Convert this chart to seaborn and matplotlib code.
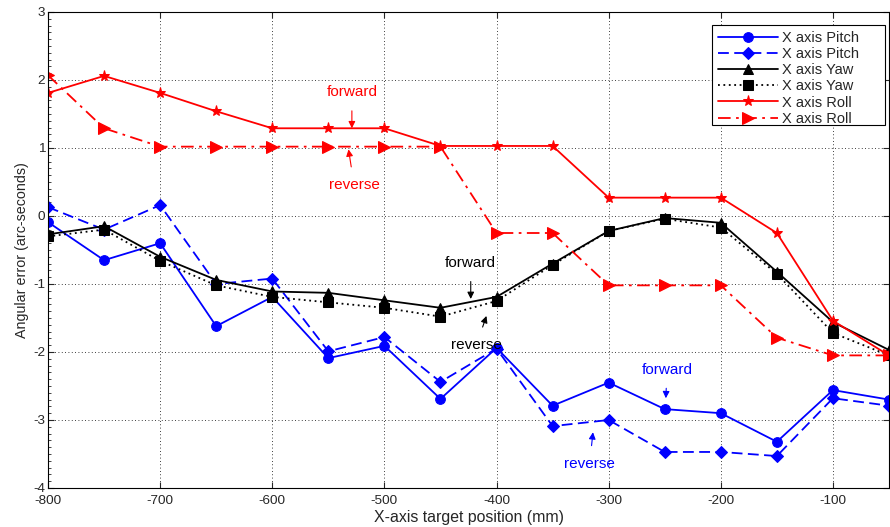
import numpy as np
import pandas as pd
import matplotlib
matplotlib.use("Agg")
import matplotlib.pyplot as plt
from matplotlib.patches import Rectangle
from matplotlib.ticker import MultipleLocator
import seaborn as sns

# ============================
# DATA
# ============================

positions = [-800, -750, -700, -650, -600, -550, -500, -450,
             -400, -350, -300, -250, -200, -150, -100, -50]

pitch_fwd = [-0.09, -0.65, -0.40, -1.62, -1.19, -2.09, -1.91, -2.69,
             -1.94, -2.79, -2.45, -2.84, -2.90, -3.32, -2.56, -2.70]
pitch_rev = [0.13, -0.20, 0.16, -1.00, -0.92, -1.99, -1.78, -2.44,
             -1.95, -3.09, -3.00, -3.47, -3.47, -3.53, -2.68, -2.79]
yaw_fwd = [-0.27, -0.15, -0.60, -0.94, -1.11, -1.13, -1.24, -1.35,
           -1.19, -0.70, -0.22, -0.03, -0.10, -0.82, -1.56, -1.97]
yaw_rev = [-0.30, -0.20, -0.66, -1.02, -1.19, -1.27, -1.35, -1.48,
           -1.25, -0.72, -0.22, -0.04, -0.17, -0.85, -1.72, -2.05]
roll_fwd = [1.81, 2.06, 1.81, 1.54, 1.29, 1.29, 1.29, 1.03,
            1.03, 1.03, 0.27, 0.27, 0.27, -0.25, -1.54, -2.05]
roll_rev = [2.07, 1.29, 1.02, 1.02, 1.02, 1.02, 1.02, 1.02,
            -0.25, -0.25, -1.02, -1.02, -1.02, -1.79, -2.05, -2.05]

series_labels = ["X axis Pitch", "X axis Pitch", "X axis Yaw",
                 "X axis Yaw", "X axis Roll", "X axis Roll"]

# (label, text position, arrow tip, colour)
annotations = [
    ("forward", (-529, 1.82), (-529, 1.29), "red"),
    ("reverse", (-527, 0.45), (-532, 0.98), "red"),
    ("forward", (-423, -0.69), (-423, -1.22), "black"),
    ("reverse", (-418, -1.90), (-409, -1.47), "black"),
    ("forward", (-248, -2.26), (-249, -2.68), "blue"),
    ("reverse", (-317, -3.65), (-314, -3.18), "blue"),
]

# ============================
# PLOT
# ============================

sns.set_style("ticks")
plt.rcParams["font.family"] = ["Liberation Sans", "DejaVu Sans"]
plt.rcParams["axes.unicode_minus"] = False

fig = plt.figure(figsize=(8.9, 5.27), dpi=100)
ax = fig.add_axes([48 / 890, 39 / 527, 841 / 890, 476 / 527])

styles = [
    (pitch_fwd, "blue", "-", "o", 7),
    (pitch_rev, "blue", (0, (6, 3)), "D", 6),
    (yaw_fwd, "black", "-", "^", 7.5),
    (yaw_rev, "black", (0, (1, 2)), "s", 7),
    (roll_fwd, "red", "-", "*", 8),
    (roll_rev, "red", (0, (7, 3, 1.5, 3)), ">", 8),
]

for (vals, color, ls, mk, ms), label in zip(styles, series_labels):
    sns.lineplot(x=positions, y=vals, ax=ax, color=color, linestyle=ls,
                 marker=mk, markersize=ms, markeredgecolor=color,
                 linewidth=1.3, label=label, sort=False)

for text, xy_text, xy_tip, color in annotations:
    ax.annotate(text, xy=xy_tip, xytext=xy_text, color=color, fontsize=11,
                ha="center", va="center",
                arrowprops=dict(arrowstyle="-|>", color=color, lw=0.8,
                                mutation_scale=10, shrinkA=6, shrinkB=0))

ax.set_xlim(-800, -50)
ax.set_ylim(-4, 3)
ax.set_xticks(range(-800, -50, 100))
ax.set_yticks(range(-4, 4))
ax.yaxis.set_minor_locator(MultipleLocator(0.1))
ax.grid(True, which="major", color="black", linestyle=(0, (1, 3)), linewidth=0.6)
ax.tick_params(direction="in", labelsize=9.7, length=4, top=True, right=True)
ax.tick_params(axis="x", pad=5)
ax.tick_params(axis="y", pad=2)
ax.tick_params(axis="y", which="minor", direction="in", length=2, right=False)
for s in ax.spines.values():
    s.set_color("black")
    s.set_linewidth(0.8)

ax.set_xlabel("X-axis target position (mm)", fontsize=11.4, labelpad=2)
ax.set_ylabel("Angular error (arc-seconds)", fontsize=10.3, labelpad=3)

# MATLAB-style legend box, wider than its contents
ax.add_patch(Rectangle((0.7895, 0.7626), 0.2057, 0.2101, transform=ax.transAxes,
                       facecolor="white", edgecolor="black", linewidth=0.8,
                       zorder=4.9))
leg = ax.legend(loc="upper left", bbox_to_anchor=(0.7895, 0.9727),
                borderaxespad=0, fontsize=10.5, frameon=False,
                handlelength=4.1, handletextpad=0.3, labelspacing=0.15,
                borderpad=0.4)

fig.savefig("out.png", dpi=100)
